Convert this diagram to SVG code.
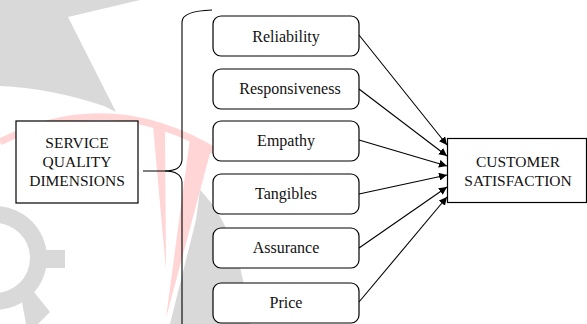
<svg xmlns="http://www.w3.org/2000/svg" width="587" height="324" viewBox="0 0 587 324">
<defs>
<style>
.box{fill:#fff;stroke:#000;stroke-width:1.2}
.t{font-family:"Liberation Serif","Times New Roman",serif;font-size:16px;fill:#111;text-anchor:middle}
.u{font-size:15.5px}
.c{stroke:#000;stroke-width:1.1;fill:none}
.wg{fill:#d9d9d9}
.wr{fill:#ffd5d5}
</style>
<marker id="ah" viewBox="0 0 10 10" refX="10" refY="5" markerWidth="8" markerHeight="8" markerUnits="userSpaceOnUse" orient="auto">
<path d="M0,0 L10,5 L0,10 z" fill="#000"/>
</marker>
</defs>
<rect width="587" height="324" fill="#fff"/>
<g id="watermark">
<path class="wg" d="M0,0 L140,0 L68,17 L116,112 L104,106 Q50,88 0,86 Z"/>
<path d="M0,142 Q110,86 220,154" fill="none" stroke="#ffd5d5" stroke-width="7"/>
<path class="wr" d="M153,126 L165,127 L166,270 Z"/>
<path class="wr" d="M190,138 L212,146 L166,318 Z"/>
<path class="wg" d="M200,190 Q240,230 250,324 L170,324 L196,220 Z"/>
<path class="wg" fill-rule="evenodd" d="M-5,206 A52,52 0 1 1 -5,310 A52,52 0 1 1 -5,206 Z M-5,223 A35,35 0 1 0 -5,293 A35,35 0 1 0 -5,223 Z"/>
<rect class="wg" x="43" y="250" width="22" height="18"/>
<path class="wg" d="M22,302 L34,292 L50,312 L38,324 L26,324 Z"/>
</g>
<g id="connectors">
<path class="c" d="M143,171 L165,171 Q181,171 182,160 L182,22 Q182,11 212,10"/>
<path class="c" d="M165,171 Q181,171 182,182 L182,326"/>
<line class="c" x1="359" y1="35" x2="447" y2="145" marker-end="url(#ah)"/>
<line class="c" x1="359" y1="89" x2="447" y2="156" marker-end="url(#ah)"/>
<line class="c" x1="359" y1="140" x2="447" y2="166" marker-end="url(#ah)"/>
<line class="c" x1="359" y1="194" x2="447" y2="175" marker-end="url(#ah)"/>
<line class="c" x1="359" y1="248" x2="447" y2="187" marker-end="url(#ah)"/>
<line class="c" x1="359" y1="302" x2="447" y2="197" marker-end="url(#ah)"/>
</g>
<g id="service-quality">
<rect class="box" x="16" y="121" width="122" height="82"/>
<text class="t u" x="77" y="148">SERVICE</text>
<text class="t u" x="77" y="167">QUALITY</text>
<text class="t u" x="77" y="186">DIMENSIONS</text>
</g>
<g id="reliability">
<rect class="box" x="213" y="16" width="146" height="40" rx="8"/>
<text class="t" x="286" y="42">Reliability</text>
</g>
<g id="responsiveness">
<rect class="box" x="213" y="69" width="146" height="40" rx="8"/>
<text class="t" x="290" y="94">Responsiveness</text>
</g>
<g id="empathy">
<rect class="box" x="213" y="121" width="146" height="40" rx="8"/>
<text class="t" x="286" y="146">Empathy</text>
</g>
<g id="tangibles">
<rect class="box" x="213" y="174" width="146" height="40" rx="8"/>
<text class="t" x="286" y="199">Tangibles</text>
</g>
<g id="assurance">
<rect class="box" x="213" y="228" width="146" height="40" rx="8"/>
<text class="t" x="286" y="253">Assurance</text>
</g>
<g id="price">
<rect class="box" x="213" y="283" width="146" height="40" rx="8"/>
<text class="t" x="286" y="308">Price</text>
</g>
<g id="customer-satisfaction">
<rect class="box" x="447.5" y="138.5" width="139" height="64"/>
<text class="t u" x="518" y="167">CUSTOMER</text>
<text class="t u" x="518" y="186">SATISFACTION</text>
</g>
</svg>
